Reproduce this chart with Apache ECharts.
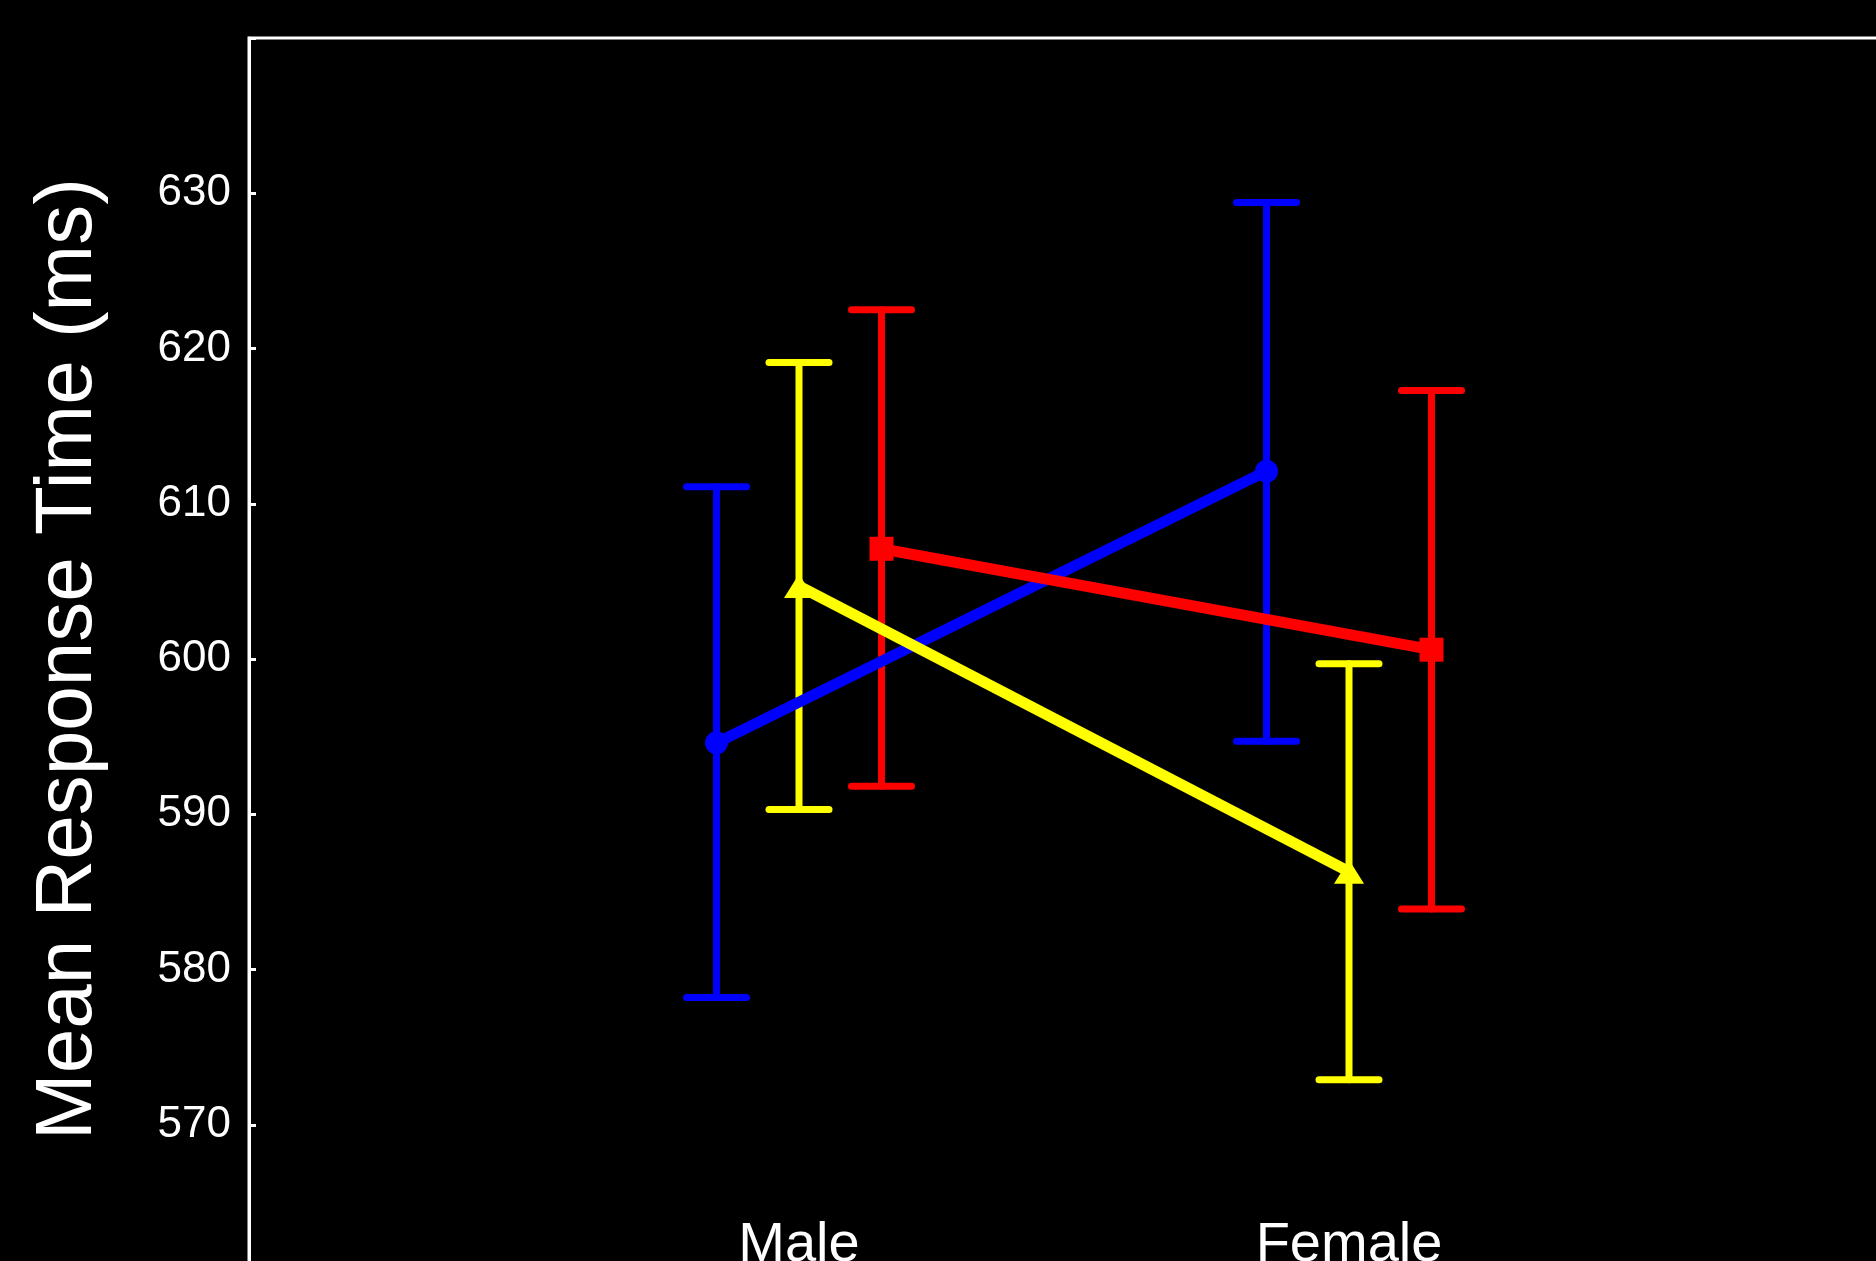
<!DOCTYPE html>
<html>
<head>
<meta charset="utf-8">
<script src="https://cdn.jsdelivr.net/npm/echarts@6/dist/echarts.min.js"></script>
<style>
  html, body { margin: 0; padding: 0; background: #000; overflow: hidden; }
  #chart { width: 1950px; height: 1350px; }
</style>
</head>
<body>
<div id="chart"></div>
<script>
// 组别 (x 轴分类)
const groups = ['Male', 'Female'];
// 三组数据: 均值 + 误差棒上下端
const blueMean = [594.6, 612.1];
const blueLow = [578.2, 594.7];
const blueHigh = [611.1, 629.4];
const yellowMean = [604.7, 586.3];
const yellowLow = [590.3, 572.9];
const yellowHigh = [619.1, 599.7];
const redMean = [607.1, 600.6];
const redLow = [591.8, 583.9];
const redHigh = [622.5, 617.3];
// y 轴刻度
const yTicks = [570, 580, 590, 600, 610, 620, 630];

const chart = echarts.init(document.getElementById('chart'));

// 每组在分类中心左右错开
function xPos(i, shift) {
  return i + 1 + shift;
}

function lineData(mean, shift) {
  return mean.map((v, i) => [xPos(i, shift), v]);
}

function errData(low, high, shift) {
  return low.map((v, i) => [xPos(i, shift), v, high[i]]);
}

function errSeries(low, high, shift, color) {
  return {
    type: 'custom',
    z: 1,
    data: errData(low, high, shift),
    encode: { x: 0, y: [1, 2] },
    renderItem: (params, api) => {
      const top = api.coord([api.value(0), api.value(2)]);
      const bot = api.coord([api.value(0), api.value(1)]);
      const half = 30;
      const style = { stroke: color, lineWidth: 7, lineCap: 'round' };
      return {
        type: 'group',
        children: [
          { type: 'line', shape: { x1: top[0], y1: top[1], x2: bot[0], y2: bot[1] }, style: style },
          { type: 'line', shape: { x1: top[0] - half, y1: top[1], x2: top[0] + half, y2: top[1] }, style: style },
          { type: 'line', shape: { x1: bot[0] - half, y1: bot[1], x2: bot[0] + half, y2: bot[1] }, style: style }
        ]
      };
    }
  };
}

function meanSeries(mean, shift, color, symbol, size) {
  return {
    type: 'line',
    z: 3,
    data: lineData(mean, shift),
    symbol: symbol,
    symbolSize: size,
    showSymbol: true,
    lineStyle: { color: color, width: 11 },
    itemStyle: { color: color },
    animation: false
  };
}

const option = {
  backgroundColor: '#000',
  animation: false,
  grid: {
    left: 249,
    top: 38,
    width: 1650,
    height: 1242,
    show: true,
    borderColor: '#fff',
    borderWidth: 3,
    backgroundColor: 'transparent'
  },
  xAxis: {
    type: 'value',
    min: 0,
    max: 3,
    interval: 1,
    splitLine: { show: false },
    axisTick: { show: false },
    axisLine: { lineStyle: { color: '#fff', width: 3 } },
    axisLabel: {
      color: '#fff',
      fontSize: 56,
      fontFamily: 'Liberation Sans, Arial, sans-serif',
      margin: -62,
      formatter: (v) => groups[v - 1] || ''
    }
  },
  yAxis: {
    type: 'value',
    min: 560,
    max: 640,
    interval: 10,
    name: 'Mean Response Time (ms)',
    nameLocation: 'middle',
    nameGap: 140,
    nameTextStyle: {
      color: '#fff',
      fontSize: 80,
      fontFamily: 'Liberation Sans, Arial, sans-serif'
    },
    splitLine: { show: false },
    axisLine: { lineStyle: { color: '#fff', width: 3 } },
    axisTick: { inside: true, length: 7, lineStyle: { color: '#fff', width: 3 } },
    axisLabel: {
      color: '#fff',
      fontSize: 44,
      fontFamily: 'Liberation Sans, Arial, sans-serif',
      margin: 18,
      formatter: (v) => (yTicks.indexOf(v) >= 0 ? String(v) : '')
    }
  },
  series: [
    errSeries(blueLow, blueHigh, -0.15, '#0000ff'),
    errSeries(yellowLow, yellowHigh, 0, '#ffff00'),
    errSeries(redLow, redHigh, 0.15, '#ff0000'),
    meanSeries(blueMean, -0.15, '#0000ff', 'circle', 23),
    meanSeries(yellowMean, 0, '#ffff00', 'triangle', [30, 24]),
    meanSeries(redMean, 0.15, '#ff0000', 'rect', 24)
  ]
};

chart.setOption(option);
</script>
</body>
</html>
